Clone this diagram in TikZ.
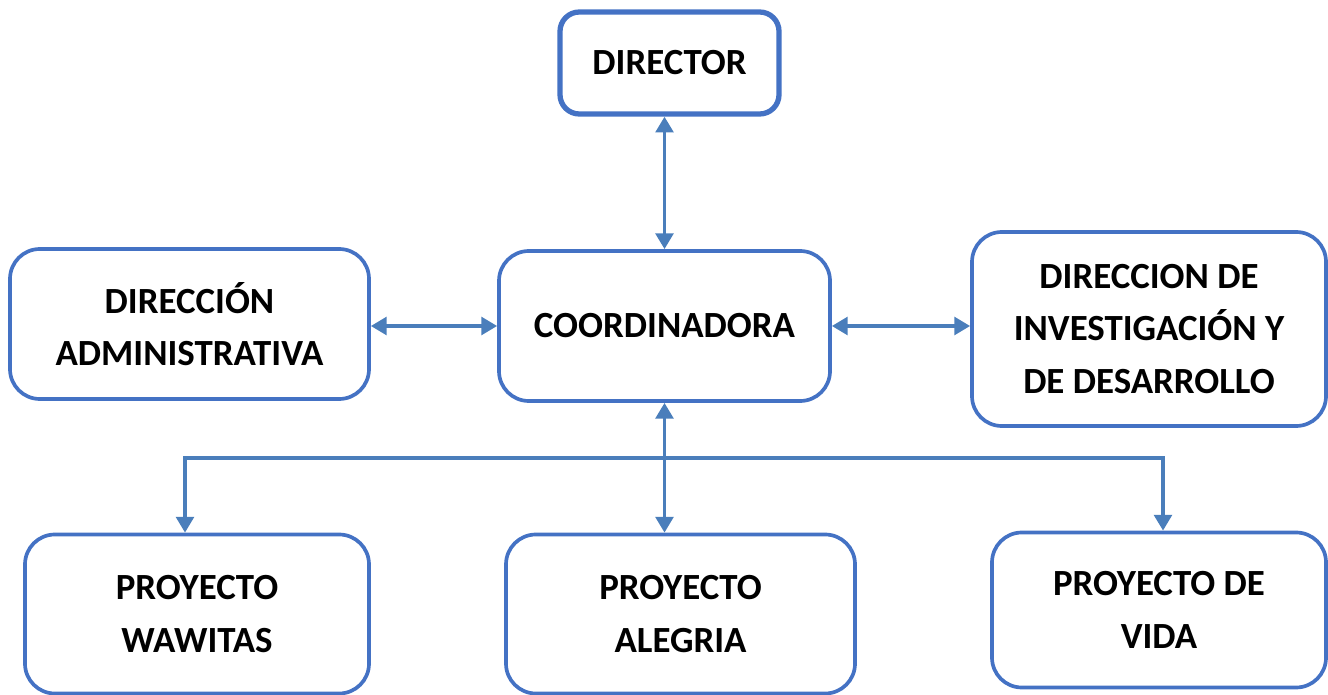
\documentclass[tikz,border=0pt]{standalone}
\usepackage{fontspec}
\setmainfont{Carlito}
\usetikzlibrary{arrows.meta}
\definecolor{boxblue}{HTML}{4472C4}
\definecolor{arrowblue}{HTML}{4A7EBB}
\tikzset{
  unit/.style={draw=boxblue, line width=2.1pt, rounded corners=17pt, align=center,
    font=\fontsize{21}{30}\selectfont\bfseries, inner sep=0pt},
  arr/.style={draw=arrowblue, line width=2.2pt, -{Triangle[length=9pt,width=10pt]}},
  darr/.style={arr, {Triangle[length=9pt,width=10pt]}-{Triangle[length=9pt,width=10pt]}}
}
\begin{document}
\begin{tikzpicture}
\useasboundingbox (0,0) rectangle (26.56,13.88);
\node[unit, line width=3pt, rounded corners=11pt, minimum width=4.38cm, minimum height=2.04cm] (director) at (13.39,12.62) {DIRECTOR};
\node[unit, minimum width=7.18cm, minimum height=3.0cm] (admin) at (3.79,7.40) {DIRECCIÓN\\ADMINISTRATIVA};
\node[unit, minimum width=6.62cm, minimum height=3.0cm] (coord) at (13.29,7.36) {COORDINADORA};
\node[unit, minimum width=7.08cm, minimum height=3.88cm] (dirinv) at (22.98,7.30) {DIRECCION DE\\INVESTIGACIÓN Y\\DE DESARROLLO};
\node[unit, minimum width=6.88cm, minimum height=3.18cm] (wawitas) at (3.94,1.60) {PROYECTO\\WAWITAS};
\node[unit, minimum width=6.98cm, minimum height=3.18cm] (alegria) at (13.61,1.60) {PROYECTO\\ALEGRIA};
\node[unit, minimum width=6.68cm, minimum height=3.10cm] (vida) at (23.18,1.68) {PROYECTO DE\\VIDA};
% connectors
\draw[darr] (coord.north) -- (coord.north |- director.south);
\draw[darr] (coord.west) -- (coord.west -| admin.east);
\draw[darr] (coord.east) -- (coord.east -| dirinv.west);
\draw[darr] (coord.south) -- (coord.south |- alegria.north);
\coordinate (bus) at (13.29,4.72);
\draw[arr] (bus) -| ([xshift=-2.4mm]wawitas.north);
\draw[arr] (bus) -| ([xshift=0.8mm]vida.north);
\end{tikzpicture}
\end{document}
